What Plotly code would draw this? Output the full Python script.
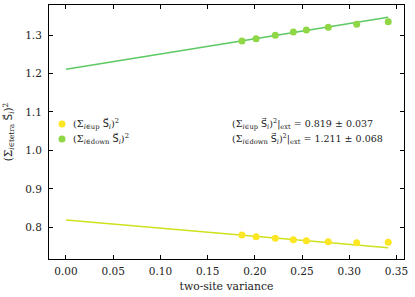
import plotly.graph_objects as go

# data
variance = [0.1864, 0.2013, 0.2217, 0.2408, 0.2546, 0.2778, 0.3079, 0.3413]
sum_up = [0.7800, 0.7756, 0.7714, 0.7678, 0.7652, 0.7625, 0.7600, 0.7610]
sum_down = [1.2844, 1.2904, 1.2992, 1.3078, 1.3130, 1.3200, 1.3278, 1.3346]
fit_x = [0.0, 0.3413]
fit_up = [0.819, 0.747]
fit_down = [1.211, 1.346]
x_ticks = [0.00, 0.05, 0.10, 0.15, 0.20, 0.25, 0.30, 0.35]
y_ticks = [0.8, 0.9, 1.0, 1.1, 1.2, 1.3]

FONT = "DejaVu Serif"
up_pt = "#fde725"
up_ln = "#cfe11d"
dn_pt = "#8fd744"
dn_ln = "#5ec962"

S = "<span style='font-family:DejaVu Sans'>S\u20d7</span>"
lab_up = f"(Σ<sub><i>i</i>∈up</sub> {S}<sub><i>i</i></sub>)<sup>2</sup>"
lab_dn = f"(Σ<sub><i>i</i>∈down</sub> {S}<sub><i>i</i></sub>)<sup>2</sup>"

fig = go.Figure()
fig.add_trace(go.Scatter(x=fit_x, y=fit_up, mode="lines",
                         line=dict(color=up_ln, width=1.6), showlegend=False))
fig.add_trace(go.Scatter(x=fit_x, y=fit_down, mode="lines",
                         line=dict(color=dn_ln, width=1.6), showlegend=False))
fig.add_trace(go.Scatter(x=variance, y=sum_up, mode="markers", name=lab_up,
                         marker=dict(color=up_pt, size=7), showlegend=False))
fig.add_trace(go.Scatter(x=variance, y=sum_down, mode="markers", name=lab_dn,
                         marker=dict(color=dn_pt, size=7), showlegend=False))

# manual legend (marker + text) in paper coordinates
PW, PH = 355, 254
for ypx, col, lab in [(124, up_pt, lab_up), (139, dn_pt, lab_dn)]:
    yp = (259 - ypx) / PH
    xp = (62 - 49) / PW
    fig.add_shape(type="circle", xref="paper", yref="paper", xsizemode="pixel",
                  ysizemode="pixel", xanchor=xp, yanchor=yp, x0=-3.5, x1=3.5,
                  y0=-3.5, y1=3.5, fillcolor=col, line=dict(width=0))
    fig.add_annotation(xref="paper", yref="paper", x=(71 - 49) / PW, y=yp,
                       xanchor="left", yanchor="middle", showarrow=False, text=lab,
                       font=dict(family=FONT, size=9.7, color="#222"))

for ypx, txt in [(124, f"(Σ<sub><i>i</i>∈up</sub> {S}<sub><i>i</i></sub>)<sup>2</sup>|<sub>ext</sub> = 0.819 ± 0.037"),
                 (139, f"(Σ<sub><i>i</i>∈down</sub> {S}<sub><i>i</i></sub>)<sup>2</sup>|<sub>ext</sub> = 1.211 ± 0.068")]:
    fig.add_annotation(xref="paper", yref="paper", x=(230 - 49) / PW, y=(259 - ypx) / PH,
                       xanchor="left", yanchor="middle", showarrow=False, text=txt,
                       font=dict(family=FONT, size=9.5, color="#222"))

axis_common = dict(showgrid=False, zeroline=False, showline=True, linecolor="black",
                   linewidth=1, mirror="ticks", ticks="inside", ticklen=4,
                   tickcolor="black", tickwidth=1, automargin=False,
                   tickfont=dict(family=FONT, size=10.5, color="#222"))

fig.update_xaxes(range=[-0.018, 0.358], tickvals=x_ticks,
                 ticktext=[f"{v:.2f}" for v in x_ticks], ticklabelstandoff=2,
                 title=dict(text="two-site variance", font=dict(family=FONT, size=10.8, color="#222"),
                            standoff=6),
                 **axis_common)
fig.update_yaxes(range=[0.7176, 1.378], tickvals=y_ticks,
                 ticktext=[f"{v:.1f}" for v in y_ticks], ticklabelstandoff=4,
                 title=dict(text=f"(Σ<sub><i>i</i>∈tetra</sub> {S}<sub><i>i</i></sub>)<sup>2</sup>",
                            font=dict(family=FONT, size=10.5, color="#222"), standoff=10),
                 **axis_common)

fig.update_layout(width=415, height=297, plot_bgcolor="white", paper_bgcolor="white",
                  margin=dict(l=49, r=11, t=5, b=38), showlegend=False)

fig.write_html("out.html", config={"displayModeBar": False},
               post_script="document.body.style.margin='0';document.body.style.overflow='hidden';")
